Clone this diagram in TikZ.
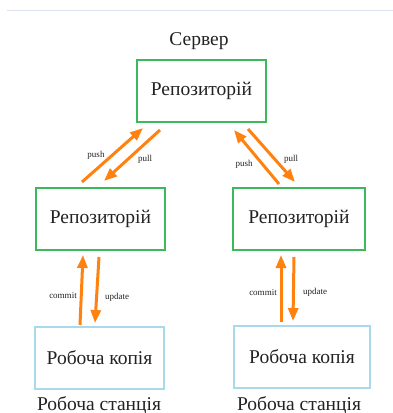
\documentclass[tikz,border=0pt]{standalone}
\usepackage{fontspec}
\setmainfont{Liberation Serif}
\usetikzlibrary{arrows.meta}
\definecolor{boxgreen}{HTML}{3DB85A}
\definecolor{boxblue}{HTML}{A8DAEC}
\definecolor{arrorange}{HTML}{FF8210}
\definecolor{rulegray}{HTML}{DDE3EF}
\definecolor{txt}{HTML}{222222}
\tikzset{
  repo/.style={draw=boxgreen, line width=2pt, minimum width=#1, minimum height=62pt, inner sep=0pt, font=\fontsize{19.5}{22}\selectfont, text=txt},
  wcopy/.style={draw=boxblue, line width=2pt, minimum width=#1, minimum height=62pt, inner sep=0pt, font=\fontsize{19.5}{22}\selectfont, text=txt},
  bigtext/.style={font=\fontsize{19.5}{22}\selectfont, text=txt, inner sep=0pt},
  small/.style={font=\fontsize{9}{10}\selectfont, text=txt, inner sep=0pt},
  flow/.style={draw=arrorange, line width=3pt, -{Triangle[length=13pt,width=10pt]}}
}
\begin{document}
\begin{tikzpicture}[x=1pt,y=-1pt]
\useasboundingbox (0,0) rectangle (393,413);
\coordinate (r1) at (7,10.5);
\coordinate (r2) at (393,10.5);
\draw[rulegray, line width=1pt] (r1) -- (r2);

\node[bigtext] (server) at (199,41) {Сервер};
\node[repo=129pt] (top) at (201.5,91) {Репозиторій};
\node[repo=129pt] (left) at (100.5,218.5) {Репозиторій};
\node[repo=132pt] (right) at (299,218.5) {Репозиторій};
\node[wcopy=129pt] (bl) at (99.5,357.5) {Робоча копія};
\node[wcopy=136pt] (br) at (302,356.5) {Робоча копія};
\node[bigtext] (wsl) at (99,405) {Робоча станція};
\node[bigtext] (wsr) at (299,405) {Робоча станція};

% left push/pull
\coordinate (lpush1) at (82,182);
\coordinate (lpush2) at (143,128);
\coordinate (lpull1) at (160,130);
\coordinate (lpull2) at (104,181);
\draw[flow] (lpush1) -- (lpush2);
\draw[flow] (lpull1) -- (lpull2);
\node[small] (lpushl) at (96,155) {push};
\node[small] (lpulll) at (145,159) {pull};

% right push/pull
\coordinate (rpush1) at (279,184);
\coordinate (rpush2) at (234,130);
\coordinate (rpull1) at (248,129);
\coordinate (rpull2) at (295,182);
\draw[flow] (rpush1) -- (rpush2);
\draw[flow] (rpull1) -- (rpull2);
\node[small] (rpushl) at (244,164) {push};
\node[small] (rpulll) at (291,159) {pull};

% left commit/update
\coordinate (lc1) at (80,325);
\coordinate (lc2) at (83,255);
\coordinate (lu1) at (99,257);
\coordinate (lu2) at (95,323);
\draw[flow] (lc1) -- (lc2);
\draw[flow] (lu1) -- (lu2);
\node[small] (lcl) at (63,296) {commit};
\node[small] (lul) at (117,297) {update};

% right commit/update
\coordinate (rc1) at (281,322);
\coordinate (rc2) at (281,255);
\coordinate (ru1) at (294,257);
\coordinate (ru2) at (293,321);
\draw[flow] (rc1) -- (rc2);
\draw[flow] (ru1) -- (ru2);
\node[small] (rcl) at (263,293) {commit};
\node[small] (rul) at (315,292) {update};
\end{tikzpicture}
\end{document}
